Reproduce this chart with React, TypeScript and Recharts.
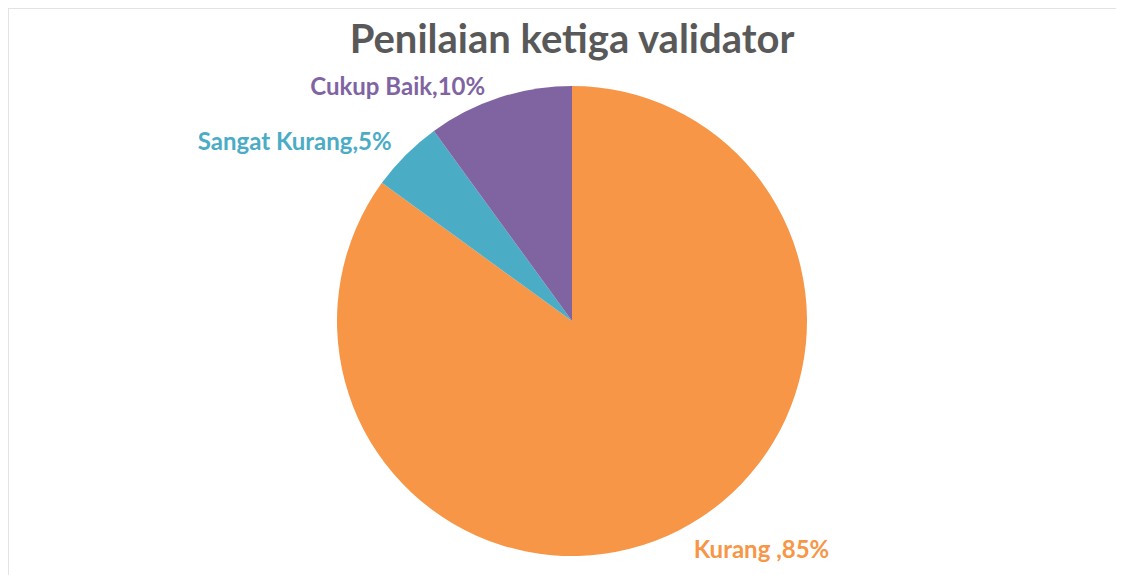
import { PieChart, Pie, Cell } from 'recharts'

const categories = ['Kurang ', 'Sangat Kurang', 'Cukup Baik']
const percentages = [85, 5, 10]
const COLORS = ['#F79646', '#4BACC6', '#8064A2']

const data = categories.map((name, i) => ({ name, value: percentages[i] }))

const RADIAN = Math.PI / 180
// small nudges so labels sit where Excel's best-fit put them
const LABEL_NUDGE = [
  [6, 0],
  [0, 0],
  [-8, 7],
]

function renderLabel(props: any) {
  const { cx, cy, midAngle, outerRadius, index, name, value } = props
  const r = outerRadius + 20
  const cos = Math.cos(-midAngle * RADIAN)
  const sin = Math.sin(-midAngle * RADIAN)
  const x = cx + r * cos + LABEL_NUDGE[index][0]
  const y = cy + r * sin + LABEL_NUDGE[index][1]
  return (
    <text
      x={x}
      y={y}
      fill={COLORS[index]}
      textAnchor={cos >= 0 ? 'start' : 'end'}
      dominantBaseline="central"
      fontSize={24}
      fontWeight="bold"
      fontFamily="Lato, 'Open Sans', sans-serif"
    >
      {`${name},${value}%`}
    </text>
  )
}

export default function App() {
  return (
    <div
      style={{
        position: 'relative',
        width: 1116,
        height: 567,
        borderTop: '1px solid #e3e3e3',
        borderLeft: '1px solid #e3e3e3',
        boxSizing: 'border-box',
        background: '#fff',
      }}
    >
      <PieChart width={1115} height={566}>
        <text
          x={563}
          y={29}
          textAnchor="middle"
          dominantBaseline="central"
          fontSize={40}
          fontWeight="bold"
          fill="#595959"
          fontFamily="Lato, 'Open Sans', sans-serif"
        >
          Penilaian ketiga validator
        </text>
        <Pie
          data={data}
          dataKey="value"
          nameKey="name"
          cx={558}
          cy={307}
          outerRadius={235}
          startAngle={90}
          endAngle={-270}
          stroke="none"
          label={renderLabel}
          labelLine={false}
          isAnimationActive={false}
        >
          {data.map((entry, i) => (
            <Cell key={entry.name} fill={COLORS[i]} />
          ))}
        </Pie>
      </PieChart>
    </div>
  )
}
